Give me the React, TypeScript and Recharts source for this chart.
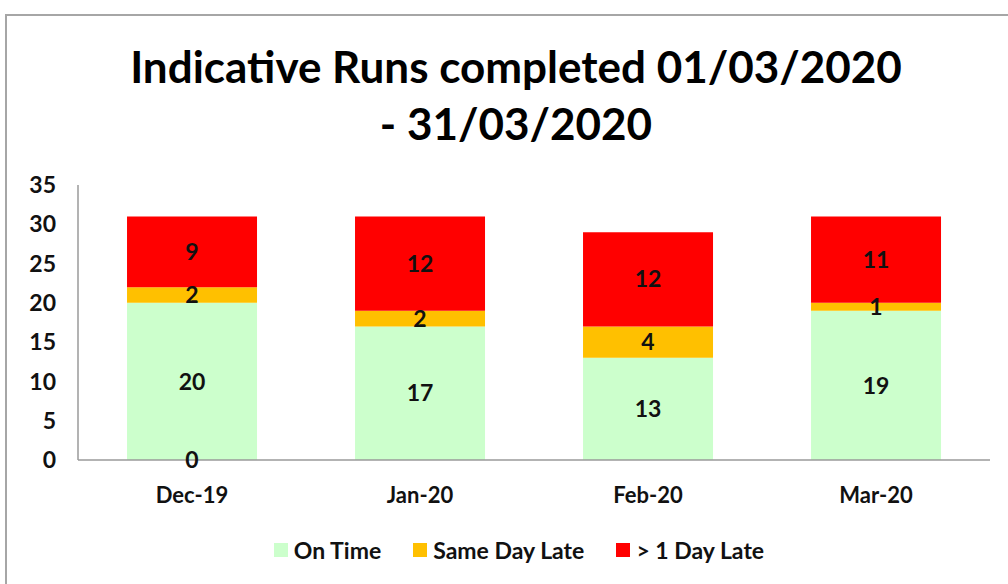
import { BarChart, Bar, XAxis, YAxis, LabelList, ReferenceDot } from 'recharts'

const months = ['Dec-19', 'Jan-20', 'Feb-20', 'Mar-20']
const onTime = [20, 17, 13, 19]
const sameDayLate = [2, 2, 4, 1]
const overOneDayLate = [9, 12, 12, 11]
// Excel shows a stray zero label at the base of the first bar
const zeroRow = [0, null, null, null]
const yTicks = [0, 5, 10, 15, 20, 25, 30, 35]

const legendItems = [
  { label: 'On Time', color: '#CCFFCC' },
  { label: 'Same Day Late', color: '#FFC000' },
  { label: '> 1 Day Late', color: '#FF0000' },
]

const FONT = 'Lato, "Open Sans", sans-serif'
const TEXT = '#111'

export default function App() {
  const data = months.map((m, i) => ({
    month: m,
    onTime: onTime[i],
    sameDayLate: sameDayLate[i],
    overOneDayLate: overOneDayLate[i],
  }))

  const labelStyle = { fill: TEXT, fontSize: 23, fontWeight: 700, fontFamily: FONT }

  return (
    <div style={{ position: 'fixed', left: 0, top: 0, width: 1008, height: 584, background: '#fff', fontFamily: FONT, overflow: 'hidden' }}>
      <div style={{ position: 'absolute', left: 5, top: 14, width: 1020, height: 600, border: '2px solid #a6a6a6', boxSizing: 'border-box' }} />
      <div style={{ position: 'absolute', left: 16, width: 1000, top: 38, textAlign: 'center', fontSize: 44, fontWeight: 700, lineHeight: '57px', color: '#000' }}>
        Indicative Runs completed 01/03/2020
        <br />- 31/03/2020
      </div>
      <div style={{ position: 'absolute', left: 0, top: 0 }}>
        <BarChart width={1008} height={584} data={data} margin={{ top: 185, right: 18, left: 28, bottom: 64 }} barCategoryGap="21.5%">
          <XAxis
            dataKey="month"
            height={60}
            tickLine={false}
            tickSize={0}
            tickMargin={27}
            axisLine={{ stroke: '#9a9a9a', strokeWidth: 1.5 }}
            tick={{ fill: TEXT, fontSize: 22, fontWeight: 700, fontFamily: FONT }}
          />
          <YAxis
            width={50}
            domain={[0, 35]}
            ticks={yTicks}
            interval={0}
            tickLine={false}
            tickSize={0}
            tickMargin={22}
            axisLine={{ stroke: '#9a9a9a', strokeWidth: 1.5 }}
            tick={{ fill: TEXT, fontSize: 23, fontWeight: 700, fontFamily: FONT }}
          />
          <Bar dataKey="onTime" name="On Time" stackId="a" fill="#CCFFCC" isAnimationActive={false}>
            <LabelList dataKey="onTime" position="center" style={labelStyle} />
          </Bar>
          <Bar dataKey="sameDayLate" name="Same Day Late" stackId="a" fill="#FFC000" isAnimationActive={false}>
            <LabelList dataKey="sameDayLate" position="center" style={labelStyle} />
          </Bar>
          <Bar dataKey="overOneDayLate" name="> 1 Day Late" stackId="a" fill="#FF0000" isAnimationActive={false}>
            <LabelList dataKey="overOneDayLate" position="center" style={labelStyle} />
          </Bar>
          {months.map((m, i) =>
            zeroRow[i] === null ? null : (
              <ReferenceDot
                key={m}
                x={m}
                y={zeroRow[i] as number}
                r={0}
                stroke="none"
                label={{ value: String(zeroRow[i]), position: 'center', ...labelStyle }}
              />
            )
          )}
        </BarChart>
      </div>
      <div style={{ position: 'absolute', left: 0, width: 1038, top: 536, display: 'flex', justifyContent: 'center', gap: 32, fontSize: 23, fontWeight: 700, color: TEXT }}>
        {legendItems.map((it) => (
          <div key={it.label} style={{ display: 'flex', alignItems: 'center', gap: 6 }}>
            <span style={{ width: 14, height: 14, background: it.color, display: 'inline-block' }} />
            <span>{it.label}</span>
          </div>
        ))}
      </div>
    </div>
  )
}
